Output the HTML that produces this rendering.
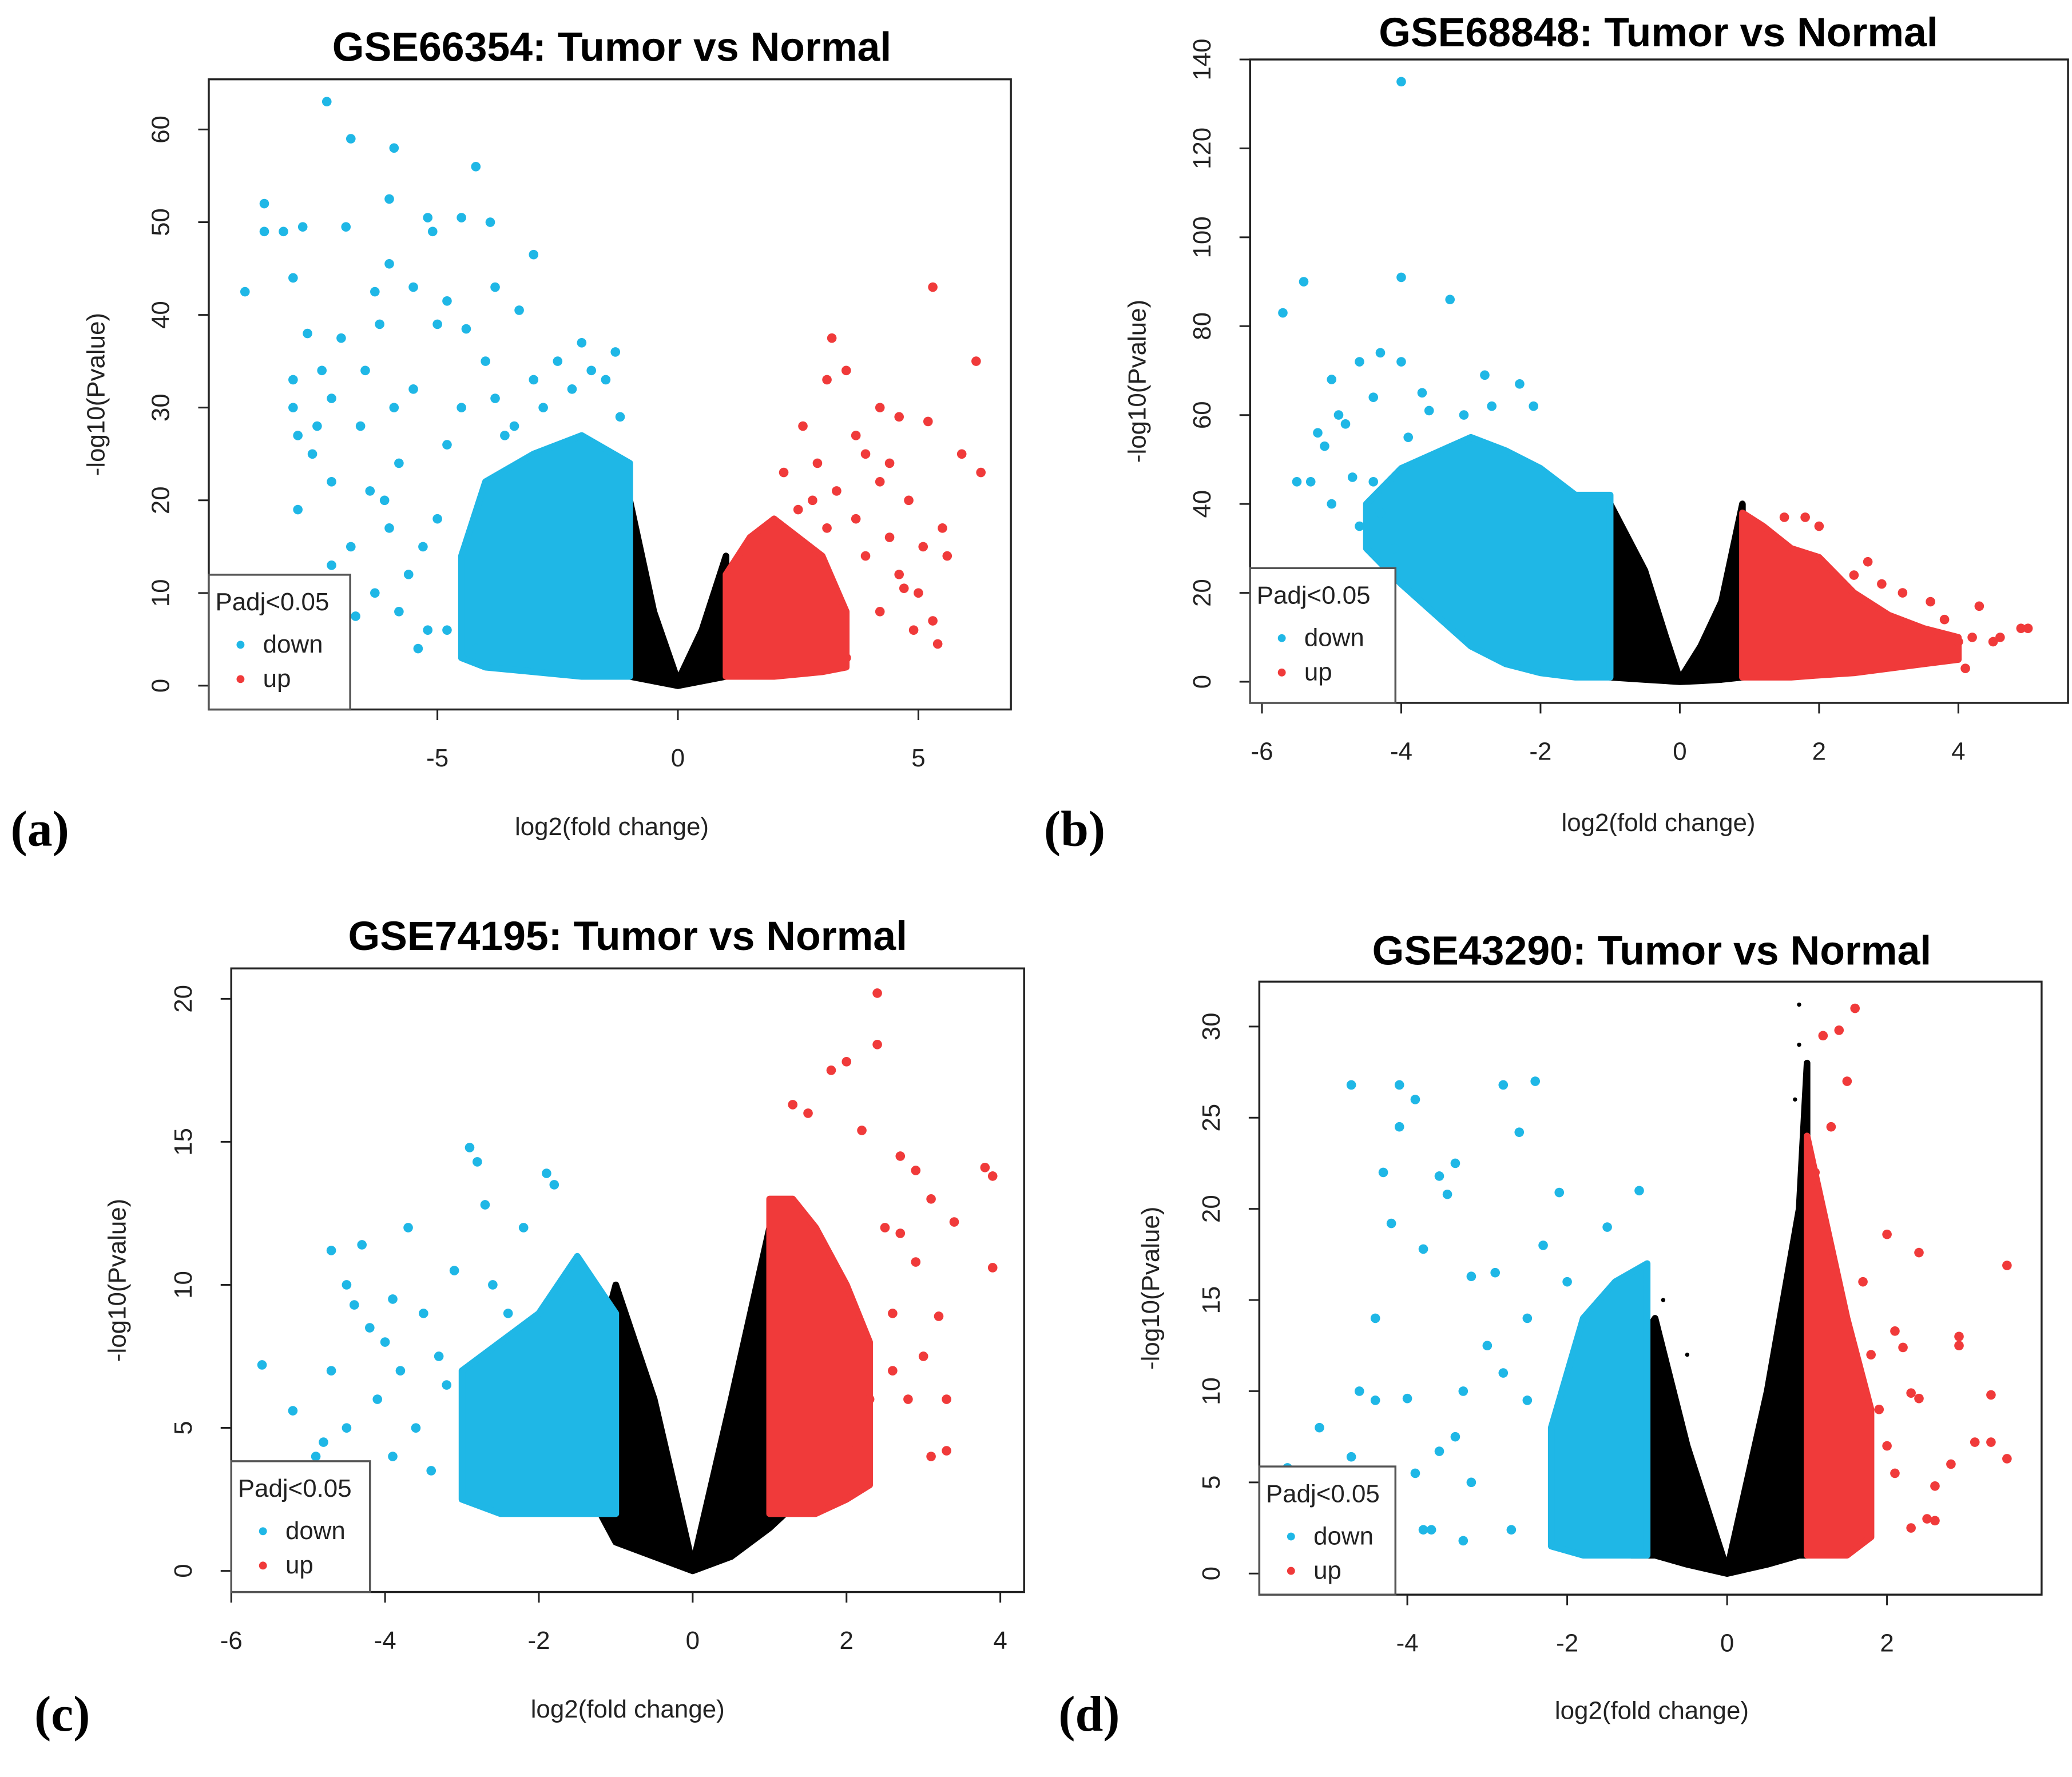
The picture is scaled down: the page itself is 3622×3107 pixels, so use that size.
<!DOCTYPE html>
<html><head><meta charset="utf-8">
<style>
html,body{margin:0;padding:0;background:#fff}
svg{display:block}
text{font-family:"Liberation Sans",sans-serif}
</style></head>
<body>
<svg id="fig" width="3622" height="3107" viewBox="0 0 1568 1345" xmlns="http://www.w3.org/2000/svg"></svg>
<script>
// ---------- Panel data ----------
const aTitle = "GSE66354: Tumor vs Normal";
const aXTicks = [-5, 0, 5];
const aYTicks = [0, 10, 20, 30, 40, 50, 60];
const aDownCloudX = [-4.5, -4, -3, -2, -1];
const aDownCloudTop = [14, 22, 25, 27, 24];
const aDownCloudBot = [3, 2, 1.5, 1, 1];
const aUpCloudX = [1, 1.5, 2, 3, 3.5];
const aUpCloudTop = [12, 16, 18, 14, 8];
const aUpCloudBot = [1, 1, 1, 1.5, 2];
const aNsCloudX = [-1, -0.5, 0, 0.5, 1];
const aNsCloudTop = [20, 8, 0.5, 6, 14];
const aNsCloudBot = [1, 0.5, 0, 0.5, 1];
const aDownX = [-7.3,-6.8,-5.9,-4.2,-8.6,-6,-5.2,-4.5,-3.9,-8.2,-8.6,-7.8,-6.9,-5.1,-9,-8,-6,-3,-6.3,-5.5,-4.8,-3.8,-3.3,-7.7,-7,-6.2,-5,-4.4,-2,-1.3,-7.4,-6.5,-8,-7.2,-6.6,-5.9,-5.5,-4,-2.5,-1.5,-8,-7.5,-7.6,-7.9,-7.2,-6.4,-6.8,-7.2,-6.3,-6.7,-5.8,-5.6,-5.3,-5.2,-4.8,-4.8,-4.5,-3.8,-3,-2.2,-1.2,-5,-5.8,-6,-4.2,-3.6,-1.8,-2.8,-3.4,-7.9,-6.1,-5.4];
const aDownY = [63,59,58,56,52,52.5,50.5,50.5,50,49,49,49.5,49.5,49,42.5,44,45.5,46.5,42.5,43,41.5,43,40.5,38,37.5,39,39,38.5,37,36,34,34,33,31,28,30,32,35,35,33,30,28,25,19,22,21,15,13,10,7.5,8,12,15,6,6,26,30,31,33,32,29,18,24,17,4,27,34,30,28,27,20,4];
const aUpX = [5.3,6.2,3.2,3.5,3.1,2.6,4.2,4.6,5.2,5.9,6.3,3.7,4.2,4.8,5.5,5.6,5,5.3,5.4,4.4,3.9,2.9,3.3,2.2,3.7,4.6,3.9,4.2,4.9,2.8,3.1,4.4,5.1,4.7,3.5,2.5];
const aUpY = [43,35,37.5,34,33,28,30,29,28.5,25,23,27,22,20,17,14,10,7,4.5,24,25,24,21,23,18,12,14,8,6,20,17,16,15,10.5,3,19];

const bTitle = "GSE68848: Tumor vs Normal";
const bXTicks = [-6, -4, -2, 0, 2, 4];
const bYTicks = [0, 20, 40, 60, 80, 100, 120, 140];
const bDownCloudX = [-4.5, -4, -3, -2.5, -2, -1.5, -1];
const bDownCloudTop = [40, 48, 55, 52, 48, 42, 42];
const bDownCloudBot = [30, 22, 8, 4, 2, 1, 1];
const bUpCloudX = [0.9, 1.2, 1.6, 2, 2.5, 3, 3.5, 4];
const bUpCloudTop = [38, 35, 30, 28, 20, 15, 12, 10];
const bUpCloudBot = [1, 1, 1, 1.5, 2, 3, 4, 5];
const bNsCloudX = [-1, -0.5, -0.2, 0, 0.3, 0.6, 0.9];
const bNsCloudTop = [40, 25, 10, 0.5, 8, 18, 40];
const bNsCloudBot = [1, 0.5, 0.2, 0, 0.2, 0.5, 1];
const bDownX = [-4,-5.4,-4,-3.3,-5.7,-4.3,-4,-4.6,-5,-4.4,-5.2,-4.9,-5.1,-5.3,-5,-4.7,-4.3,-4.1,-3.6,-3.1,-2.8,-2.3,-2.1,-3.9,-4.6,-5.5,-3.7,-4.8,-4.4,-2.7];
const bDownY = [135,90,91,86,83,74,72,72,68,64,56,60,53,45,40,46,38,30,61,60,69,67,62,55,35,45,65,58,45,62];
const bUpX = [1.5,1.8,2,2.7,2.5,2.9,3.2,3.6,3.8,4.3,5,4.9,4.6,4.2,4,3.4,3.0,2.4,4.5,3.7,4.1];
const bUpY = [37,37,35,27,24,22,20,18,14,17,12,12,10,10,9,12,14,18,9,9,3];

const cTitle = "GSE74195: Tumor vs Normal";
const cXTicks = [-6, -4, -2, 0, 2, 4];
const cYTicks = [0, 5, 10, 15, 20];
const cDownCloudX = [-3, -2.5, -2, -1.5, -1];
const cDownCloudTop = [7, 8, 9, 11, 9];
const cDownCloudBot = [2.5, 2, 2, 2, 2];
const cUpCloudX = [1, 1.3, 1.6, 2, 2.3];
const cUpCloudTop = [13, 13, 12, 10, 8];
const cUpCloudBot = [2, 2, 2, 2.5, 3];
const cNsCloudX = [-1.2, -1, -0.5, 0, 0.5, 1, 1.2];
const cNsCloudTop = [8, 10, 6, 0.2, 6, 12, 6];
const cNsCloudBot = [2, 1, 0.5, 0, 0.5, 1.5, 2];
const cDownX = [-2.9,-2.8,-1.9,-1.8,-2.7,-3.7,-4.3,-4.7,-2.2,-3.1,-4.5,-4.4,-3.9,-3.5,-4.2,-4,-4.7,-5.6,-5.2,-4.5,-4.8,-4.9,-3.8,-3.3,-4.1,-4.6,-3.6,-3.2,-3.9,-3.4,-1.6,-1.5,-2.4,-2.6];
const cDownY = [14.8,14.3,13.9,13.5,12.8,12,11.4,11.2,12,10.5,10,9.3,9.5,9,8.5,8,7,7.2,5.6,5,4.5,4,7,7.5,6,3.3,5,6.5,4,3.5,10,9.5,9,10];
const cUpX = [2.4,2.4,2,1.8,1.3,1.5,2.2,2.7,2.9,3.8,3.9,3.1,3.4,2.7,2.5,2.9,3.9,3.2,3.3,3.3,3.1,2.6,2.8,2.3,2.1,2.0,3,2.6];
const cUpY = [20.2,18.4,17.8,17.5,16.3,16,15.4,14.5,14,14.1,13.8,13,12.2,11.8,12,10.8,10.6,8.9,6,4.2,4,7,6,6,4.5,5,7.5,9];

const dTitle = "GSE43290: Tumor vs Normal";
const dXTicks = [-4, -2, 0, 2];
const dYTicks = [0, 5, 10, 15, 20, 25, 30];
const dDownCloudX = [-2.2, -1.8, -1.4, -1];
const dDownCloudTop = [8, 14, 16, 17];
const dDownCloudBot = [1.5, 1, 1, 1];
const dUpCloudX = [1, 1.2, 1.5, 1.8];
const dUpCloudTop = [24, 20, 14, 9];
const dUpCloudBot = [1, 1, 1, 2];
const dNsCloudX = [-1.2, -0.9, -0.5, 0, 0.5, 0.9, 1.0];
const dNsCloudTop = [12, 14, 7, 0.2, 10, 20, 28];
const dNsCloudBot = [1, 1, 0.5, 0, 0.5, 1, 1];
const dDownX = [-4.7,-4.1,-3.9,-2.8,-2.4,-2.6,-4.1,-3.4,-3.6,-4.3,-3.5,-2.1,-1.1,-4.2,-3.8,-3.2,-2.9,-4.4,-4.6,-4.4,-4,-5.1,-4.7,-5.5,-3.6,-3.2,-3.9,-3.3,-2.8,-3,-2.5,-3.7,-3.8,-3.3,-2.7,-2.3,-1.5,-2,-2.5,-3.4];
const dDownY = [26.8,26.8,26,26.8,27,24.2,24.5,22.5,21.8,22,20.8,20.9,21,19.2,17.8,16.3,16.5,14,10,9.5,9.6,8,6.4,5.8,6.7,5,5.5,10,11,12.5,14,2.4,2.4,1.8,2.4,18,19,16,9.5,7.5];
const dUpX = [1.6,1.4,1.2,1.5,1.3,1.1,2.0,2.4,3.5,2.1,2.2,2.9,2.9,2.3,2.4,3.3,3.1,3.3,3.5,2.8,2.6,2.5,2.3,2.6,1.9,2,1.7,1.8,2.1];
const dUpY = [31,29.8,29.5,27,24.5,22,18.6,17.6,16.9,13.3,12.4,13,12.5,9.9,9.6,9.8,7.2,7.2,6.3,6,4.8,3,2.5,2.9,9,7,16,12,5.5];
const dNsX = [0.9, 0.9, 0.85, -0.8, -0.5];
const dNsY = [31.2, 29, 26, 15, 12];

// ---------- Layout ----------
const NS = "http://www.w3.org/2000/svg";
const svg = document.getElementById('fig');
const BLUE = "#1fb7e6", RED = "#f03a3a";
function mk(tag, attrs, parent) {
  const e = document.createElementNS(NS, tag);
  for (const k in attrs) e.setAttribute(k, attrs[k]);
  (parent || svg).appendChild(e);
  return e;
}
function txt(s, attrs, parent) { const t = mk('text', attrs, parent); t.textContent = s; return t; }

const panels = [
  {id:'a', title:aTitle, xT:aXTicks, yT:aYTicks, box:[158,60,765,537], x0v:-5,x0p:331,x1v:5,x1p:695, y0v:0,y0p:519,y1v:60,y1p:98,
   titleXY:[463,46], xlabXY:[463,632], ylabX:72, tagXY:[8,640], leg:[158,435,265,537],
   clouds:[[aNsCloudX,aNsCloudTop,aNsCloudBot,'#000'],[aDownCloudX,aDownCloudTop,aDownCloudBot,BLUE],[aUpCloudX,aUpCloudTop,aUpCloudBot,RED]],
   pts:[[aDownX,aDownY,BLUE],[aUpX,aUpY,RED]]},
  {id:'b', title:bTitle, xT:bXTicks, yT:bYTicks, box:[946,45,1565,532], x0v:-6,x0p:955,x1v:4,x1p:1482, y0v:0,y0p:516,y1v:140,y1p:45,
   titleXY:[1255,35], xlabXY:[1255,629], ylabX:860, tagXY:[790,640], leg:[946,430,1056,532],
   clouds:[[bNsCloudX,bNsCloudTop,bNsCloudBot,'#000'],[bDownCloudX,bDownCloudTop,bDownCloudBot,BLUE],[bUpCloudX,bUpCloudTop,bUpCloudBot,RED]],
   pts:[[bDownX,bDownY,BLUE],[bUpX,bUpY,RED]]},
  {id:'c', title:cTitle, xT:cXTicks, yT:cYTicks, box:[175,733,775,1205], x0v:-6,x0p:175,x1v:4,x1p:757, y0v:0,y0p:1189,y1v:20,y1p:756,
   titleXY:[475,719], xlabXY:[475,1300], ylabX:88, tagXY:[26,1310], leg:[175,1106,280,1205],
   clouds:[[cNsCloudX,cNsCloudTop,cNsCloudBot,'#000'],[cDownCloudX,cDownCloudTop,cDownCloudBot,BLUE],[cUpCloudX,cUpCloudTop,cUpCloudBot,RED]],
   pts:[[cDownX,cDownY,BLUE],[cUpX,cUpY,RED]]},
  {id:'d', title:dTitle, xT:dXTicks, yT:dYTicks, box:[953,743,1545,1207], x0v:-4,x0p:1065,x1v:2,x1p:1428, y0v:0,y0p:1191,y1v:30,y1p:777,
   titleXY:[1250,730], xlabXY:[1250,1301], ylabX:870, tagXY:[801,1310], leg:[953,1110,1056,1207],
   clouds:[[dNsCloudX,dNsCloudTop,dNsCloudBot,'#000'],[dDownCloudX,dDownCloudTop,dDownCloudBot,BLUE],[dUpCloudX,dUpCloudTop,dUpCloudBot,RED]],
   pts:[[dDownX,dDownY,BLUE],[dUpX,dUpY,RED],[dNsX,dNsY,'#000']]}
];

panels.forEach(p => {
  const g = mk('g', {});
  
  
  const sx = v => p.x0p + (v - p.x0v) * (p.x1p - p.x0p) / (p.x1v - p.x0v);
  const sy = v => p.y0p + (v - p.y0v) * (p.y1p - p.y0p) / (p.y1v - p.y0v);
  const [L,T,R,B] = p.box;

  const t = txt(p.title, {x:p.titleXY[0], y:p.titleXY[1], 'text-anchor':'middle', 'font-size':31, 'font-weight':'bold'}, g);
  
  

  p.clouds.forEach(c => {
    const [xs, top, bot, col] = c;
    let d = '';
    xs.forEach((x,i) => { d += (i ? 'L' : 'M') + sx(x).toFixed(1) + ' ' + sy(top[i]).toFixed(1); });
    for (let i = xs.length - 1; i >= 0; i--) d += 'L' + sx(xs[i]).toFixed(1) + ' ' + sy(bot[i]).toFixed(1);
    const path = mk('path', {d: d + 'Z', fill: col, stroke: col, 'stroke-width': 5, 'stroke-linejoin':'round'}, g);
    
    
  });
  p.pts.forEach(s => {
    const [xs, ys, col] = s;
    xs.forEach((x,i) => {
      const c = mk('circle', {cx: sx(x).toFixed(1), cy: sy(ys[i]).toFixed(1), r: col === '#000' ? 1.6 : 3.6, fill: col}, g);
      
      
    });
  });

  const box = mk('rect', {x:L, y:T, width:R-L, height:B-T, fill:'none', stroke:'#222', 'stroke-width':1.5}, g);
  
  

  const xa = mk('g', {}, g);
  
  
  mk('line', {x1:sx(p.xT[0]), x2:sx(p.xT[p.xT.length-1]), y1:B, y2:B, stroke:'#222', 'stroke-width':1.3}, xa);
  p.xT.forEach(v => {
    mk('line', {x1:sx(v), x2:sx(v), y1:B, y2:B+8, stroke:'#222', 'stroke-width':1.3}, xa);
    const lt = txt(String(v), {x:sx(v), y:B+43, 'text-anchor':'middle', 'font-size':19, fill:'#222'}, xa);
    
    
  });
  const xl = txt('log2(fold change)', {x:p.xlabXY[0], y:p.xlabXY[1], 'text-anchor':'middle', 'font-size':19, fill:'#222'}, g);
  
  

  const ya = mk('g', {}, g);
  
  
  mk('line', {x1:L, x2:L, y1:sy(p.yT[0]), y2:sy(p.yT[p.yT.length-1]), stroke:'#222', 'stroke-width':1.3}, ya);
  p.yT.forEach(v => {
    mk('line', {x1:L-8, x2:L, y1:sy(v), y2:sy(v), stroke:'#222', 'stroke-width':1.3}, ya);
    const lx = L - 30, ly = sy(v);
    const lt = txt(String(v), {x:lx, y:ly, 'text-anchor':'middle', 'font-size':19, fill:'#222', transform:`rotate(-90 ${lx} ${ly})`}, ya);
    
    
  });
  const ycy = (T + B) / 2;
  const yl = txt('-log10(Pvalue)', {x:p.ylabX + 7, y:ycy, 'text-anchor':'middle', 'font-size':19, fill:'#222', transform:`rotate(-90 ${p.ylabX + 7} ${ycy})`}, g);
  
  

  const [lL,lT,lR,lB] = p.leg;
  const lg = mk('g', {}, g);
  
  
  mk('rect', {x:lL, y:lT, width:lR-lL, height:lB-lT, fill:'#fff', stroke:'#555', 'stroke-width':1.5}, lg);
  txt('Padj<0.05', {x:lL+5, y:lT+27, 'font-size':19, fill:'#222'}, lg);
  const e1 = mk('g', {}, lg);
  
  
  mk('circle', {cx:lL+24, cy:lT+53, r:3, fill:BLUE}, e1);
  txt('down', {x:lL+41, y:lT+59, 'font-size':19, fill:'#222'}, e1);
  const e2 = mk('g', {}, lg);
  
  
  mk('circle', {cx:lL+24, cy:lT+79, r:3, fill:RED}, e2);
  txt('up', {x:lL+41, y:lT+85, 'font-size':19, fill:'#222'}, e2);

  const tg = txt('(' + p.id + ')', {x:p.tagXY[0], y:p.tagXY[1], style:'font-family:"Liberation Serif",serif;font-size:38px;font-weight:bold'}, svg);
  
  
});
</script>
</body></html>
